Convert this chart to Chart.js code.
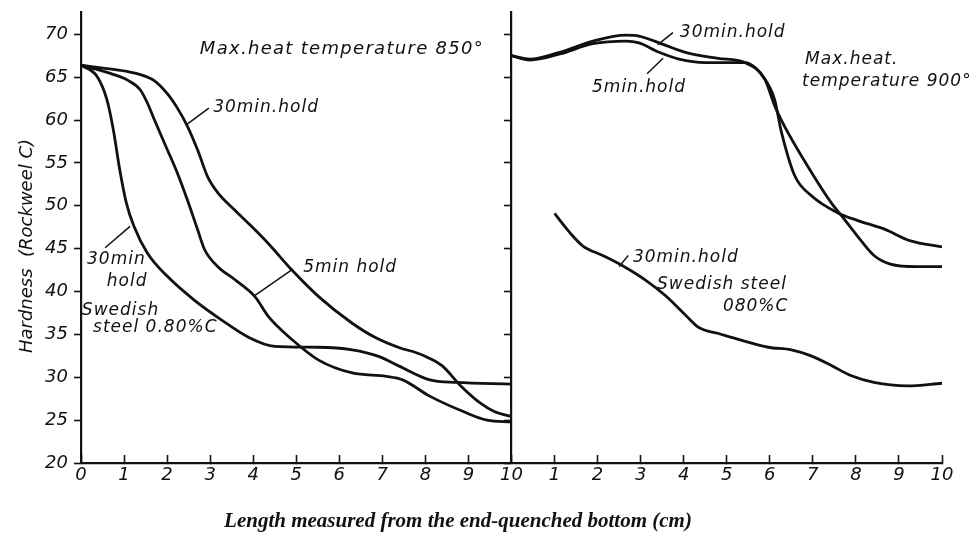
<!DOCTYPE html>
<html>
<head>
<meta charset="utf-8">
<script src="https://cdn.jsdelivr.net/npm/chart.js@4.4.1/dist/chart.umd.min.js"></script>
<style>
  html, body { margin: 0; padding: 0; background: #fff; }
  #wrap { width: 980px; height: 533px; position: relative; }
</style>
</head>
<body>
<div id="wrap"><canvas id="chart"></canvas></div>
<script>
// x runs 0..20: left panel is 0..10 cm (850°), right panel is 10..20 (900°, labelled 1..10 again)

// Max heat temperature 850°
const hold30_850_x = [0, 0.6, 1.14, 1.38, 1.7, 2.0, 2.25, 2.47, 2.71, 2.94, 3.18, 3.57, 3.96, 4.35, 4.9, 5.52, 6.3, 6.85, 7.48, 7.71, 8.1, 8.4, 8.8, 9.27, 9.6, 10];
const hold30_850_y = [66.4, 66.0, 65.6, 65.3, 64.6, 63.1, 61.3, 59.3, 56.5, 53.4, 51.5, 49.5, 47.6, 45.6, 42.5, 39.4, 36.3, 34.6, 33.3, 33.0, 32.2, 31.3, 29.1, 27.0, 26.0, 25.4];

const hold5_850_x = [0, 0.76, 1.1, 1.38, 1.55, 1.69, 2.0, 2.24, 2.47, 2.71, 2.87, 3.18, 3.57, 4.04, 4.35, 4.9, 5.52, 6.3, 7.09, 7.47, 8.1, 8.88, 9.43, 10];
const hold5_850_y = [66.4, 65.3, 64.6, 63.5, 61.9, 60.2, 56.6, 53.8, 50.7, 47.2, 44.9, 42.9, 41.4, 39.4, 37.1, 34.4, 32.0, 30.5, 30.1, 29.7, 27.8, 26.0, 25.0, 24.8];

const swedish_850_x = [0, 0.37, 0.6, 0.75, 0.9, 1.05, 1.23, 1.54, 2.0, 2.63, 3.26, 3.88, 4.5, 5.5, 6.3, 6.93, 7.39, 8.1, 8.72, 10];
const swedish_850_y = [66.4, 65.1, 62.4, 58.9, 54.2, 50.4, 47.6, 44.5, 41.8, 39.0, 36.7, 34.7, 33.6, 33.5, 33.2, 32.4, 31.3, 29.7, 29.4, 29.2];

// Max heat temperature 900°
const hold30_900_x = [10, 10.43, 11.12, 11.89, 12.66, 12.96, 13.43, 14.04, 14.8, 15.42, 15.88, 16.11, 16.34, 16.87, 17.42, 17.72, 18.03, 18.42, 18.8, 19.42, 20];
const hold30_900_y = [67.5, 67.1, 67.9, 69.2, 69.9, 69.8, 69.0, 67.9, 67.2, 66.7, 64.8, 61.7, 59.3, 54.7, 50.4, 48.5, 46.5, 44.2, 43.2, 42.9, 42.9];

const hold5_900_x = [10, 10.43, 11.12, 11.89, 12.66, 12.96, 13.43, 13.89, 14.5, 15.42, 15.88, 16.11, 16.27, 16.58, 16.96, 17.57, 18.03, 18.65, 19.27, 20];
const hold5_900_y = [67.5, 67.0, 67.7, 68.9, 69.2, 69.0, 67.9, 67.1, 66.7, 66.7, 64.8, 62.4, 58.6, 53.5, 51.2, 49.2, 48.3, 47.3, 45.9, 45.2];

const swedish_900_x = [11, 11.35, 11.66, 12.12, 12.58, 13.12, 13.58, 14.05, 14.35, 14.81, 15.35, 15.96, 16.5, 16.96, 17.42, 17.88, 18.42, 19.19, 20];
const swedish_900_y = [49.1, 46.9, 45.3, 44.2, 43.0, 41.3, 39.5, 37.2, 35.8, 35.1, 34.3, 33.5, 33.2, 32.5, 31.4, 30.2, 29.4, 29.0, 29.3];

// axis ticks
const yTicks = [20, 25, 30, 35, 40, 45, 50, 55, 60, 65, 70];
const xTickLabels = ['0', '1', '2', '3', '4', '5', '6', '7', '8', '9', '10', '1', '2', '3', '4', '5', '6', '7', '8', '9', '10'];

const yTitle = 'Hardness  (Rockweel C)';
const xTitle = 'Length measured from the end-quenched bottom (cm)';

// text notes on the plot, placed in data units
const notes = [
  { text: 'Max.heat temperature 850°', x: 2.76, y: 68.2, size: 18, spacing: 1.3 },
  { text: '30min.hold', x: 3.07, y: 61.4 },
  { text: '30min', x: 0.14, y: 43.7 },
  { text: 'hold', x: 0.6, y: 41.2 },
  { text: 'Swedish', x: 0.02, y: 37.8 },
  { text: 'steel 0.80%C', x: 0.28, y: 35.8 },
  { text: '5min hold', x: 5.16, y: 42.8 },
  { text: '30min.hold', x: 13.91, y: 70.2 },
  { text: '5min.hold', x: 11.87, y: 63.8 },
  { text: 'Max.heat.', x: 16.82, y: 67.0 },
  { text: 'temperature 900°', x: 16.75, y: 64.5 },
  { text: '30min.hold', x: 12.82, y: 44.0 },
  { text: 'Swedish steel', x: 13.38, y: 40.8 },
  { text: '080%C', x: 14.91, y: 38.2 }
];

// short pointer strokes from a note to its curve
const pointers = [
  [2.46, 59.5, 2.97, 61.4],
  [1.14, 47.6, 0.56, 45.1],
  [4.0, 39.4, 4.92, 42.6],
  [13.4, 68.8, 13.75, 70.2],
  [13.52, 67.2, 13.15, 65.4],
  [12.5, 42.9, 12.71, 44.2]
];

const toPoints = (xs, ys) => xs.map((x, i) => ({ x: x, y: ys[i] }));

const curve = (label, xs, ys) => ({
  label: label,
  data: toPoints(xs, ys),
  borderColor: '#111',
  borderWidth: 2.8,
  pointRadius: 0,
  fill: false,
  cubicInterpolationMode: 'monotone'
});

const notesPlugin = {
  id: 'notes',
  afterDatasetsDraw(chart) {
    const { ctx, scales: { x, y } } = chart;
    ctx.save();
    ctx.fillStyle = '#111';
    ctx.strokeStyle = '#111';

    ctx.lineWidth = 1.5;
    pointers.forEach(p => {
      ctx.beginPath();
      ctx.moveTo(x.getPixelForValue(p[0]), y.getPixelForValue(p[1]));
      ctx.lineTo(x.getPixelForValue(p[2]), y.getPixelForValue(p[3]));
      ctx.stroke();
    });

    ctx.textAlign = 'left';
    ctx.textBaseline = 'middle';
    notes.forEach(n => {
      ctx.font = 'italic ' + (n.size || 17) + 'px "DejaVu Sans"';
      ctx.letterSpacing = (n.spacing || 1) + 'px';
      ctx.fillText(n.text, x.getPixelForValue(n.x), y.getPixelForValue(n.y));
    });

    // axis titles
    ctx.letterSpacing = '0px';
    ctx.save();
    ctx.translate(27, 246);
    ctx.rotate(-Math.PI / 2);
    ctx.textAlign = 'center';
    ctx.font = 'italic 18px "DejaVu Sans"';
    ctx.fillText(yTitle, 0, 0);
    ctx.restore();

    ctx.font = 'bold italic 21px "Liberation Serif"';
    ctx.textAlign = 'center';
    ctx.textBaseline = 'alphabetic';
    ctx.fillText(xTitle, 458, 527);
    ctx.restore();
  }
};

new Chart(document.getElementById('chart'), {
  type: 'line',
  data: {
    datasets: [
      curve('30 min hold, 850°', hold30_850_x, hold30_850_y),
      curve('5 min hold, 850°', hold5_850_x, hold5_850_y),
      curve('Swedish steel 0.80%C, 850°', swedish_850_x, swedish_850_y),
      curve('30 min hold, 900°', hold30_900_x, hold30_900_y),
      curve('5 min hold, 900°', hold5_900_x, hold5_900_y),
      curve('Swedish steel 0.80%C, 900°', swedish_900_x, swedish_900_y)
    ]
  },
  options: {
    responsive: true,
    maintainAspectRatio: false,
    animation: false,
    layout: { padding: { top: 12, right: 38, left: 0, bottom: 0 } },
    plugins: {
      legend: { display: false },
      tooltip: { enabled: false }
    },
    scales: {
      x: {
        type: 'linear',
        min: 0,
        max: 20,
        afterFit: s => { s.height = 70; s.paddingLeft = 0; s.paddingRight = 0; },
        afterBuildTicks: s => { s.ticks = xTickLabels.map((t, i) => ({ value: i })); },
        ticks: {
          callback: (v, i) => xTickLabels[i],
          color: '#111',
          font: { family: 'DejaVu Sans', size: 18, style: 'italic' },
          padding: 10,
          maxRotation: 0,
          autoSkip: false
        },
        grid: { drawOnChartArea: false, tickLength: -8, tickColor: '#111', tickWidth: 1.6 },
        border: { display: true, color: '#111', width: 2.2 }
      },
      y: {
        type: 'linear',
        min: 20,
        max: 72.6,
        afterFit: s => { s.width = 81; s.paddingTop = 0; s.paddingBottom = 0; },
        afterBuildTicks: s => { s.ticks = yTicks.map(v => ({ value: v })); },
        ticks: {
          color: '#111',
          font: { family: 'DejaVu Sans', size: 18, style: 'italic' },
          padding: 6
        },
        grid: { drawOnChartArea: false, tickLength: 7, tickColor: '#111', tickWidth: 1.6 },
        border: { display: true, color: '#111', width: 2.2 }
      },
      // divider between the two panels, ticked like the left axis
      y2: {
        type: 'linear',
        axis: 'y',
        position: { x: 10 },
        min: 20,
        max: 72.6,
        afterBuildTicks: s => { s.ticks = yTicks.map(v => ({ value: v })); },
        ticks: { display: false },
        grid: { drawOnChartArea: false, tickLength: 6, tickColor: '#111', tickWidth: 1.6 },
        border: { display: true, color: '#111', width: 2.2 }
      }
    }
  },
  plugins: [notesPlugin]
});
</script>
</body>
</html>
